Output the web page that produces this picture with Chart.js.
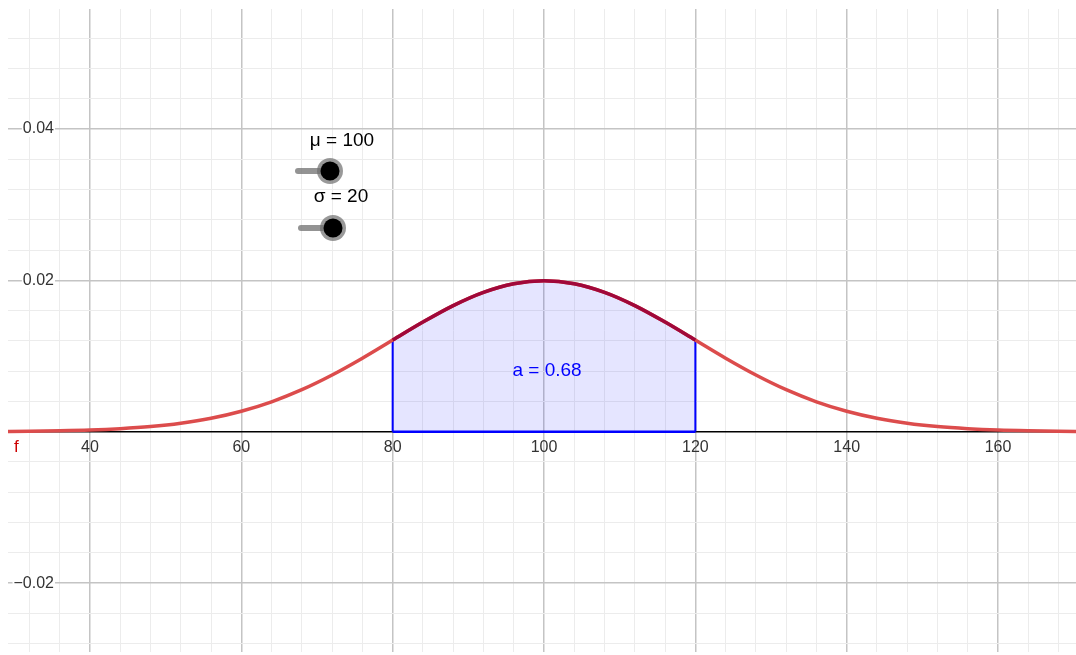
<!DOCTYPE html>
<html>
<head>
<meta charset="utf-8">
<script src="https://cdn.jsdelivr.net/npm/chart.js@4"></script>
<style>
  html, body { margin: 0; padding: 0; background: #fff; }
  #wrap { width: 1076px; height: 655px; position: relative; }
</style>
</head>
<body>
<div id="wrap"><canvas id="normalChart"></canvas></div>
<script>
// f(x), normal density with mu = 100, sigma = 20
const xValues = [28, 32, 36, 40, 44, 48, 52, 56, 60, 64, 68, 72, 76, 80, 84, 88, 92, 96,
                 100, 104, 108, 112, 116, 120, 124, 128, 132, 136, 140, 144, 148, 152, 156, 160, 164, 168, 172];
const fValues = [0.00003, 0.00006, 0.00012, 0.00022, 0.00040, 0.00068, 0.00112, 0.00177, 0.00270,
                 0.00395, 0.00555, 0.00749, 0.00971, 0.01210, 0.01448, 0.01666, 0.01841, 0.01955,
                 0.01995, 0.01955, 0.01841, 0.01666, 0.01448, 0.01210, 0.00971, 0.00749, 0.00555,
                 0.00395, 0.00270, 0.00177, 0.00112, 0.00068, 0.00040, 0.00022, 0.00012, 0.00006, 0.00003];

// shaded interval and its area
const areaFrom = 80;
const areaTo = 120;
const areaLabel = 'a = 0.68';

// sliders
const sliderLabels = ['\u03bc = 100', '\u03c3 = 20'];

// axis labels
const xTickValues = [40, 60, 80, 100, 120, 140, 160];
const xTickLabels = ['40', '60', '80', '100', '120', '140', '160'];
const yTickValues = [0.04, 0.02, -0.02];
const yTickLabels = ['0.04', '0.02', '\u22120.02'];
const functionName = 'f';

// view window
const xMin = 29.17, xMax = 170.3;
const yMin = -0.0291, yMax = 0.05584;

const curve = xValues.map((x, i) => ({ x: x, y: fValues[i] }));
const inside = curve.filter(p => p.x >= areaFrom && p.x <= areaTo);
const shade = [{ x: areaFrom, y: 0 }].concat(inside, [{ x: areaTo, y: 0 }]);
const base = [{ x: areaFrom, y: 0 }, { x: areaTo, y: 0 }];
const leftEdge = [{ x: areaFrom, y: 0 }, inside[0]];
const rightEdge = [{ x: areaTo, y: 0 }, inside[inside.length - 1]];

// minor grid every 4 units / 0.004, major every 20 / 0.02
const xGrid = [];
for (let v = 32; v <= 168; v += 4) xGrid.push(v);
const yGrid = [];
for (let i = -7; i <= 13; i++) yGrid.push(i * 0.004);

function xGridColor(ctx) {
    return ctx.tick.value % 20 === 0 ? '#c4c4c4' : '#ececec';
}
function yGridColor(ctx) {
    const k = Math.round(ctx.tick.value / 0.004);
    if (k === 0) return '#000';
    return k % 5 === 0 ? '#c4c4c4' : '#ececec';
}

const labelsPlugin = {
    id: 'ggbLabels',
    afterDatasetsDraw(chart) {
        const c = chart.ctx;
        const xs = chart.scales.x, ys = chart.scales.y;
        const area = chart.chartArea;
        const y0 = ys.getPixelForValue(0);
        c.save();
        c.font = '16px "Liberation Sans", Arial, sans-serif';
        c.textBaseline = 'middle';

        // x labels under the axis
        c.fillStyle = '#333';
        c.textAlign = 'center';
        xTickValues.forEach((v, i) => {
            c.fillText(xTickLabels[i], xs.getPixelForValue(v), y0 + 16);
        });
        c.fillStyle = '#c00';
        c.textAlign = 'left';
        c.font = '17px "Liberation Sans", Arial, sans-serif';
        c.fillText(functionName, area.left + 6, y0 + 16);

        // y labels at the left edge, on white
        c.font = '16px "Liberation Sans", Arial, sans-serif';
        c.textAlign = 'right';
        yTickValues.forEach((v, i) => {
            const py = ys.getPixelForValue(v);
            const w = c.measureText(yTickLabels[i]).width;
            c.fillStyle = '#fff';
            c.fillRect(area.left + 46 - w - 1, py - 8, w + 2, 16);
            c.fillStyle = '#333';
            c.fillText(yTickLabels[i], area.left + 46, py);
        });

        // area value
        c.font = '19px "Liberation Sans", Arial, sans-serif';
        c.fillStyle = '#0000ff';
        c.textAlign = 'center';
        c.fillText(areaLabel, xs.getPixelForValue((areaFrom + areaTo) / 2) + 3, ys.getPixelForValue(0.0081));

        // sliders (screen widgets, fixed in the view)
        const sliders = [
            { text: sliderLabels[0], tx: 342, ty: 141, x1: 298, x2: 330, y: 171 },
            { text: sliderLabels[1], tx: 341, ty: 197, x1: 301, x2: 333, y: 228 }
        ];
        sliders.forEach(s => {
            c.fillStyle = '#000';
            c.font = '19px "Liberation Sans", Arial, sans-serif';
            c.fillText(s.text, s.tx, s.ty);
            c.strokeStyle = 'rgba(120,120,120,0.8)';
            c.lineWidth = 6;
            c.lineCap = 'round';
            c.beginPath();
            c.moveTo(s.x1, s.y);
            c.lineTo(s.x2, s.y);
            c.stroke();
            c.fillStyle = 'rgba(110,110,110,0.7)';
            c.beginPath();
            c.arc(s.x2, s.y, 13, 0, Math.PI * 2);
            c.fill();
            c.fillStyle = '#000';
            c.beginPath();
            c.arc(s.x2, s.y, 9.5, 0, Math.PI * 2);
            c.fill();
        });
        c.restore();
    }
};

const edgeStyle = { borderColor: '#0000ff', borderWidth: 2, fill: false, pointRadius: 0, tension: 0 };

// first dataset is drawn on top
const ctx = document.getElementById('normalChart').getContext('2d');
new Chart(ctx, {
    type: 'line',
    data: {
        datasets: [{
            label: 'f on [80,120]',
            data: inside,
            borderColor: 'rgb(160,8,58)',
            borderWidth: 3.5,
            fill: false,
            cubicInterpolationMode: 'monotone',
            pointRadius: 0
        }, {
            label: 'f',
            data: curve,
            borderColor: 'rgb(220,76,76)',
            borderWidth: 3.5,
            fill: false,
            cubicInterpolationMode: 'monotone',
            pointRadius: 0
        },
        Object.assign({ label: 'base', data: base }, edgeStyle, { borderWidth: 2.5 }),
        Object.assign({ label: 'left edge', data: leftEdge }, edgeStyle),
        Object.assign({ label: 'right edge', data: rightEdge }, edgeStyle),
        {
            label: 'area',
            data: shade,
            borderWidth: 0,
            borderColor: 'rgba(0,0,0,0)',
            backgroundColor: 'rgba(0,0,255,0.1)',
            fill: 'origin',
            tension: 0,
            pointRadius: 0
        }]
    },
    options: {
        responsive: true,
        maintainAspectRatio: false,
        animation: false,
        layout: { padding: { left: 8, top: 9, right: 0, bottom: 3 } },
        plugins: {
            legend: { display: false },
            tooltip: { enabled: false }
        },
        scales: {
            x: {
                type: 'linear',
                min: xMin,
                max: xMax,
                afterBuildTicks: s => { s.ticks = xGrid.map(v => ({ value: v })); },
                ticks: { display: false },
                border: { display: false },
                grid: { color: xGridColor, lineWidth: c => c.tick.value % 20 === 0 ? 1.5 : 1, drawTicks: false }
            },
            y: {
                type: 'linear',
                min: yMin,
                max: yMax,
                afterBuildTicks: s => { s.ticks = yGrid.map(v => ({ value: v })); },
                ticks: { display: false },
                border: { display: false },
                grid: {
                    color: yGridColor,
                    lineWidth: c => {
                        const k = Math.round(c.tick.value / 0.004);
                        return k === 0 ? 1.5 : (k % 5 === 0 ? 1.5 : 1);
                    },
                    drawTicks: false
                }
            }
        }
    },
    plugins: [labelsPlugin]
});
</script>
</body>
</html>
